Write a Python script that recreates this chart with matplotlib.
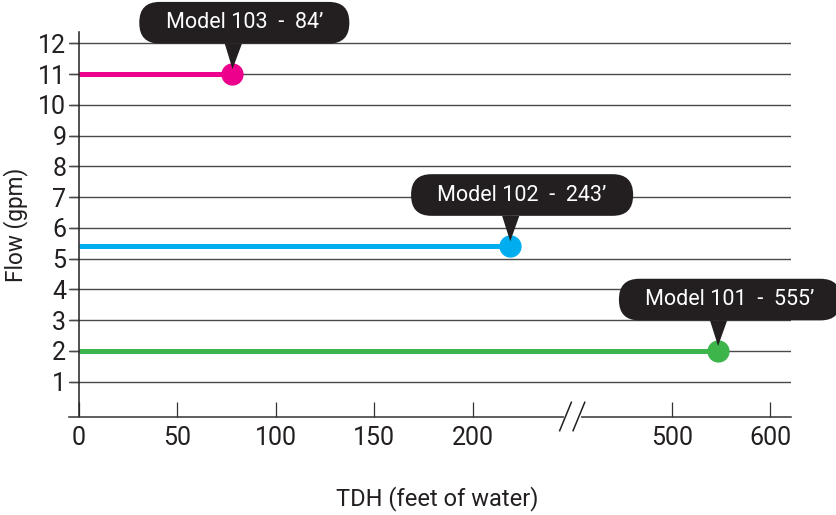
import numpy as np
import matplotlib
matplotlib.use("Agg")
import matplotlib.pyplot as plt
from matplotlib.lines import Line2D
from matplotlib.transforms import IdentityTransform

# datos
models = ["Model 103", "Model 102", "Model 101"]
tdh_labels = ["84’", "243’", "555’"]
tdh_points = [78, 219, 547]   # donde está dibujado el punto
flow = [11, 5.4, 2]
colors = ["#ec008c", "#00aeef", "#3db54a"]
x_ticks = [0, 50, 100, 150, 200, 500, 600]
y_ticks = list(range(1, 13))

DARK = "#231f20"
GRID = "#4a4a4a"

# eje x cortado: 0-250 lineal, luego salta a ~400 con la mitad de escala
BREAK_LO, BREAK_HI = 250, 398
BREAK_AT = 399


def forward(x):
    x = np.asarray(x, dtype=float)
    return np.where(x <= BREAK_LO, x, BREAK_LO + np.clip(x - BREAK_HI, 0, None) * 0.5)


def inverse(p):
    p = np.asarray(p, dtype=float)
    return np.where(p <= BREAK_LO, p, BREAK_HI + (p - BREAK_LO) * 2)


plt.rcParams["font.family"] = ["Roboto", "DejaVu Sans"]

fig = plt.figure(figsize=(8.37, 5.15), dpi=100)
ax = fig.add_axes([69 / 837, (515 - 416.5) / 515, 721.7 / 837, 384.2 / 515])
ax.set_xscale("function", functions=(forward, inverse))
ax.set_xlim(-4.92, 620.8)
ax.set_ylim(-0.13, 12.36)

# líneas y puntos
for x, y, c in zip(tdh_points, flow, colors):
    ax.plot([0, x], [y, y], color=c, lw=3.6, solid_capstyle="butt", zorder=2)
    ax.plot([x], [y], "o", ms=15, color=c, zorder=3)

# globos con el modelo
for m, lab, x, y in zip(models, tdh_labels, tdh_points, flow):
    ax.annotate(f"   {m}  -  {lab}   ", xy=(x, y), xytext=(8.6, 37),
                textcoords="offset points", ha="center", va="center",
                color="white", fontsize=15.5, zorder=5,
                bbox=dict(boxstyle="round,pad=0.48,rounding_size=0.95",
                          fc=DARK, ec="none"),
                arrowprops=dict(arrowstyle="wedge,tail_width=0.8,shrink_factor=0.5",
                                fc=DARK, ec="none", relpos=(0.445, 0.5),
                                shrinkA=0, shrinkB=3.6))

# ejes
ax.spines["top"].set_visible(False)
ax.spines["right"].set_visible(False)
ax.spines["left"].set_position(("data", 0))
ax.spines["left"].set_color(DARK)
ax.spines["left"].set_linewidth(1.1)
ax.spines["bottom"].set_color("#333333")
ax.spines["bottom"].set_linewidth(1.1)

ax.set_xticks(x_ticks)
ax.set_xticklabels([str(t) for t in x_ticks])
ax.set_yticks(y_ticks)
ax.tick_params(axis="x", direction="in", length=10.8, width=0.9, color="#333333",
               pad=6.5, labelsize=18, labelcolor=DARK)
ax.tick_params(axis="y", direction="out", length=6.5, width=1.0, color=GRID,
               pad=2.4, labelsize=18, labelcolor=DARK)
ax.yaxis.grid(True, color=GRID, lw=1.0)
ax.set_axisbelow(True)

ax.set_xlabel("TDH (feet of water)", fontsize=17, color=DARK, va="center")
ax.xaxis.set_label_coords(0.5106, -0.2147)
ax.set_ylabel("Flow (gpm)", fontsize=16.3, color=DARK, va="center")
ax.yaxis.set_label_coords(-0.0734, 0.5)

# marcas del corte "//" en el eje x
fig.canvas.draw()
bx = ax.transData.transform((BREAK_AT, 0))[0]
by = ax.transAxes.transform((0, 0))[1]
fig.add_artist(Line2D([bx - 6.7, bx + 6.7], [by, by], transform=IdentityTransform(),
                      color="white", lw=3))
for dx in (-6.7, 6.7):
    fig.add_artist(Line2D([bx + dx - 5.85, bx + dx + 5.85], [by - 14.2, by + 14.2],
                          transform=IdentityTransform(), color=DARK, lw=1.1))

fig.savefig("out.png", dpi=100)
